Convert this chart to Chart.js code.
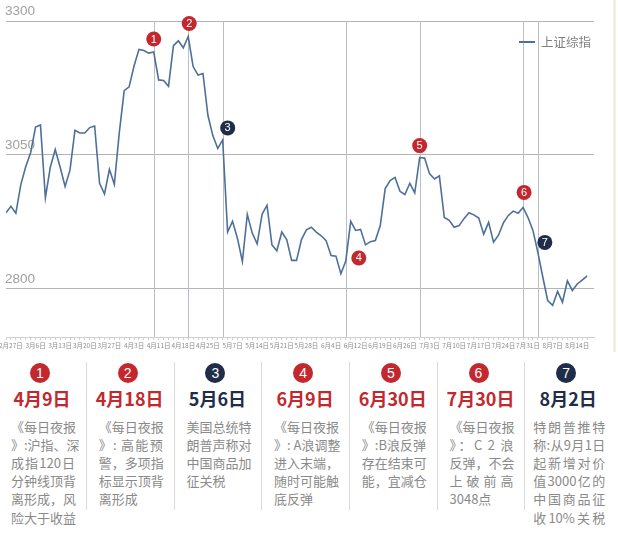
<!DOCTYPE html>
<html>
<head>
<meta charset="utf-8">
<script src="https://cdn.jsdelivr.net/npm/chart.js@4"></script>
<style>
  body { margin: 0; background: #fff; }
  #wrap { position: relative; width: 618px; height: 535px; overflow: hidden; font-family: "Noto Sans CJK SC", sans-serif; }
  #chart { position: absolute; left: 0; top: 0; }
  .badge { position: absolute; width: 20px; height: 20px; border-radius: 50%; color: #fff; font: 14px "Liberation Sans", sans-serif; line-height: 20px; text-align: center; }
  .date { position: absolute; width: 88px; font-weight: bold; font-size: 18px; line-height: 22px; text-align: center; }
  .note { position: absolute; font-size: 13px; line-height: 18px; color: #8a8a8a; white-space: nowrap; }
  .line-full { text-align: justify; text-align-last: justify; }
  .sep { position: absolute; width: 1px; background: #dadada; }
</style>
</head>
<body>
<div id="wrap">
  <canvas id="chart" width="618" height="352"></canvas>
</div>
<script>
// trading days, 2019-02-26 .. 2019-08-16
const dates = [
  '2月26日','2月27日','2月28日','3月1日','3月4日','3月5日','3月6日','3月7日','3月8日','3月11日',
  '3月12日','3月13日','3月14日','3月15日','3月18日','3月19日','3月20日','3月21日','3月22日','3月25日',
  '3月26日','3月27日','3月28日','3月29日','4月1日','4月2日','4月3日','4月4日','4月8日','4月9日',
  '4月10日','4月11日','4月12日','4月15日','4月16日','4月17日','4月18日','4月19日','4月22日','4月23日',
  '4月24日','4月25日','4月26日','4月29日','4月30日','5月6日','5月7日','5月8日','5月9日','5月10日',
  '5月13日','5月14日','5月15日','5月16日','5月17日','5月20日','5月21日','5月22日','5月23日','5月24日',
  '5月27日','5月28日','5月29日','5月30日','5月31日','6月3日','6月4日','6月5日','6月6日','6月10日',
  '6月11日','6月12日','6月13日','6月14日','6月17日','6月18日','6月19日','6月20日','6月21日','6月24日',
  '6月25日','6月26日','6月27日','6月28日','7月1日','7月2日','7月3日','7月4日','7月5日','7月8日',
  '7月9日','7月10日','7月11日','7月12日','7月15日','7月16日','7月17日','7月18日','7月19日','7月22日',
  '7月23日','7月24日','7月25日','7月26日','7月29日','7月30日','7月31日','8月1日','8月2日','8月5日',
  '8月6日','8月7日','8月8日','8月9日','8月12日','8月13日','8月14日','8月15日','8月16日'
];

const closes = [
  2942, 2954, 2941, 2994, 3028, 3054, 3102, 3106, 2970, 3027,
  3060, 3027, 2991, 3022, 3096, 3091, 3091, 3101, 3104, 2997,
  2977, 3023, 2995, 3091, 3170, 3177, 3216, 3247, 3245, 3240,
  3242, 3190, 3189, 3178, 3254, 3263, 3250, 3271, 3215, 3199,
  3202, 3124, 3086, 3062, 3078, 2906, 2926, 2894, 2851, 2939,
  2904, 2884, 2939, 2956, 2882, 2871, 2906, 2892, 2853, 2853,
  2892, 2910, 2915, 2906, 2899, 2890, 2862, 2861, 2828, 2852,
  2926, 2909, 2911, 2882, 2888, 2890, 2918, 2987, 3002, 3008,
  2982, 2976, 2997, 2979, 3045, 3044, 3015, 3005, 3011, 2933,
  2928, 2915, 2918, 2931, 2942, 2938, 2932, 2902, 2924, 2887,
  2900, 2923, 2937, 2945, 2941, 2952, 2933, 2909, 2868, 2822,
  2778, 2769, 2795, 2775, 2815, 2797, 2809, 2816, 2824
];

const yTicks = [2800, 3050, 3300];

// events: index into dates, caption date, notes
const eventIdx = [30, 37, 44, 69, 84, 105, 108];
const eventDates = ['4月9日', '4月18日', '5月6日', '6月9日', '6月30日', '7月30日', '8月2日'];
const eventNotes = [
  ['《每日夜报', '》:沪指、深', '成指120日', '分钟线顶背', '离形成，风', '险大于收益'],
  ['《每日夜报', '》: 高能预', '警，多项指', '标显示顶背', '离形成'],
  ['美国总统特', '朗普声称对', '中国商品加', '征关税'],
  ['《每日夜报', '》: A浪调整', '进入末端，', '随时可能触', '底反弹'],
  ['《每日夜报', '》:B浪反弹', '存在结束可', '能，宜减仓'],
  ['《每日夜报', '》：C 2 浪', '反弹，不会', '上 破 前 高', '3048点'],
  ['特朗普推特', '称:从9月1日', '起新增对价', '值3000亿的', '中国商品征', '收10%关税']
];

// styles
const RED = '#c3282e';
const NAVY = '#1f2d48';
const eventColor = [RED, RED, NAVY, RED, RED, RED, NAVY];
const badgeOffset = [[0, -13], [1, -13], [5, -12], [13, -3], [0, -12], [1, -15], [7, -10]];

const eventLines = {
  id: 'eventLines',
  beforeDatasetsDraw(chart) {
    const { ctx, chartArea, scales } = chart;
    ctx.save();
    ctx.strokeStyle = '#b8bfc9';
    ctx.lineWidth = 1;
    eventIdx.forEach(i => {
      const x = Math.round(scales.x.getPixelForValue(i)) + 0.5;
      ctx.beginPath();
      ctx.moveTo(x, chartArea.top);
      ctx.lineTo(x, chartArea.bottom);
      ctx.stroke();
    });
    ctx.restore();
  }
};

const badges = {
  id: 'badges',
  afterDatasetsDraw(chart) {
    const { ctx, scales } = chart;
    ctx.save();
    eventIdx.forEach((i, k) => {
      const x = scales.x.getPixelForValue(i) + badgeOffset[k][0];
      const y = scales.y.getPixelForValue(closes[i]) + badgeOffset[k][1];
      ctx.fillStyle = eventColor[k];
      ctx.beginPath();
      ctx.arc(x, y, 7.5, 0, Math.PI * 2);
      ctx.fill();
      ctx.fillStyle = '#fff';
      ctx.font = '11px "Liberation Sans", sans-serif';
      ctx.textAlign = 'center';
      ctx.textBaseline = 'middle';
      ctx.fillText(String(k + 1), x, y + 0.5);
    });
    ctx.restore();
  }
};

const legendBox = {
  id: 'legendBox',
  afterDraw(chart) {
    const { ctx } = chart;
    const ds = chart.data.datasets[0];
    ctx.save();
    ctx.strokeStyle = ds.borderColor;
    ctx.lineWidth = 2;
    ctx.beginPath();
    ctx.moveTo(519, 42);
    ctx.lineTo(535, 42);
    ctx.stroke();
    ctx.fillStyle = '#7f7f7f';
    ctx.font = '12.5px "Noto Sans CJK SC", sans-serif';
    ctx.textBaseline = 'middle';
    ctx.fillText(ds.label, 541, 42);
    // right edge rule
    ctx.strokeStyle = '#efe6d4';
    ctx.beginPath();
    ctx.moveTo(614.5, 0);
    ctx.lineTo(614.5, chart.height);
    ctx.stroke();
    ctx.restore();
  }
};

new Chart(document.getElementById('chart'), {
  type: 'line',
  data: {
    datasets: [{
      label: '上证综指',
      data: closes.map((v, i) => ({ x: i, y: v })),
      borderColor: '#4e7098',
      borderWidth: 1.6,
      pointRadius: 0,
      tension: 0
    }]
  },
  options: {
    responsive: false,
    animation: false,
    layout: { padding: { left: 6, top: 21, right: 24, bottom: 1 } },
    plugins: { legend: { display: false }, tooltip: { enabled: false } },
    scales: {
      x: {
        type: 'linear',
        min: 0,
        max: 119.4,
        afterBuildTicks: s => { s.ticks = dates.map((d, i) => ({ value: i })); },
        afterFit: s => { s.height = 14; },
        border: { color: '#d0d0d0' },
        grid: { drawOnChartArea: false, drawTicks: true, tickLength: 3, color: '#d0d0d0' },
        ticks: {
          autoSkip: false,
          maxRotation: 0,
          padding: 2,
          color: '#8c8c8c',
          font: { family: '"Noto Sans CJK SC"', size: 6.5 },
          callback: v => (v % 5 === 1 ? dates[v] : '')
        }
      },
      y: {
        min: 2710,
        max: 3300,
        afterBuildTicks: s => { s.ticks = yTicks.map(v => ({ value: v })); },
        afterFit: s => { s.width = 0; },
        border: { display: false },
        grid: { color: '#b4b4b4', lineWidth: 1, drawTicks: false },
        ticks: {
          mirror: true,
          padding: -1,
          labelOffset: -10,
          color: '#a0a0a0',
          font: { family: '"Liberation Sans"', size: 13.5 },
          callback: v => String(v)
        }
      }
    }
  },
  plugins: [eventLines, badges, legendBox]
});

// event table below the chart
const wrap = document.getElementById('wrap');
const colW = 87.7;
function textUnits(s) {
  let n = 0;
  for (const ch of s) n += ch.charCodeAt(0) > 255 ? 1 : 0.55;
  return n;
}
eventDates.forEach((d, k) => {
  const cx = 40 + colW * k;
  const badge = document.createElement('div');
  badge.className = 'badge';
  badge.style.left = (cx - 10) + 'px';
  badge.style.top = '363px';
  badge.style.background = eventColor[k];
  badge.textContent = k + 1;
  wrap.appendChild(badge);

  const date = document.createElement('div');
  date.className = 'date';
  date.style.left = (cx + 2 - 44) + 'px';
  date.style.top = '387px';
  date.style.color = eventColor[k];
  date.textContent = d;
  wrap.appendChild(date);

  const w = k === 6 ? 72 : 64;
  eventNotes[k].forEach((line, j) => {
    const el = document.createElement('div');
    el.className = 'note';
    const last = j === eventNotes[k].length - 1;
    if (!last || textUnits(line) >= 4.5) el.classList.add('line-full');
    el.style.width = w + 'px';
    el.style.left = (cx + 3 - w / 2) + 'px';
    el.style.top = (418 + j * 18.1) + 'px';
    el.textContent = line;
    wrap.appendChild(el);
  });

  if (k < eventDates.length - 1) {
    const sep = document.createElement('div');
    sep.className = 'sep';
    sep.style.left = Math.round(cx + colW / 2 + 2) + 'px';
    sep.style.top = '362px';
    sep.style.height = '148px';
    wrap.appendChild(sep);
  }
});
</script>
</body>
</html>
